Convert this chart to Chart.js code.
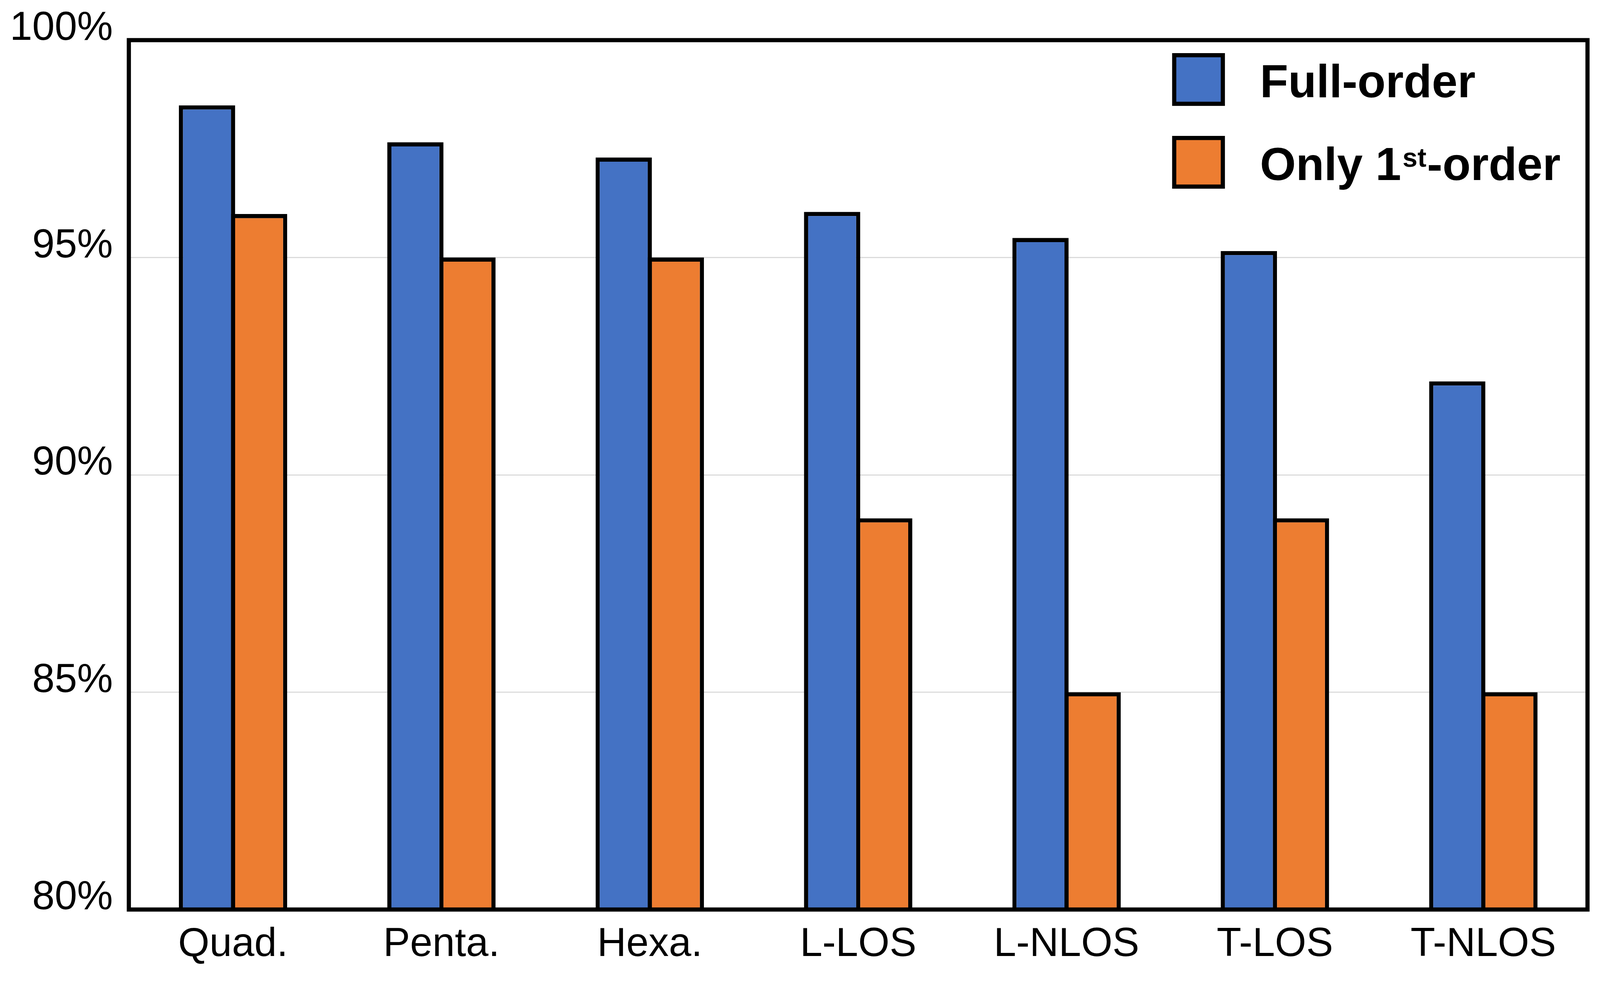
<!DOCTYPE html>
<html>
<head>
<meta charset="utf-8">
<script src="https://cdn.jsdelivr.net/npm/chart.js@4.4.1/dist/chart.umd.min.js"></script>
<style>
  html, body { margin: 0; padding: 0; background: #fff; overflow: hidden; }
  #wrap { position: relative; width: 100vw; height: 100vh; }
</style>
</head>
<body>
<div id="wrap"><canvas id="chart"></canvas></div>
<script>
// categories and values
const categories = ['Quad.', 'Penta.', 'Hexa.', 'L-LOS', 'L-NLOS', 'T-LOS', 'T-NLOS'];
const fullOrder = [98.5, 97.65, 97.3, 96.05, 95.45, 95.15, 92.15];
const firstOrder = [96, 95, 95, 89, 85, 89, 85];
const seriesNames = ['Full-order', 'Only 1st-order'];
const yTicks = [80, 85, 90, 95, 100];

const FONT = "'Liberation Sans', Arial, sans-serif";

// layout was measured on a 4607 x 2512 picture; scale it to the real viewport
const sx = window.innerWidth / 4607;
const sy = window.innerHeight / 2512;
const s = Math.min(sx, sy);

// frame round the plot area (all four sides)
const framePlugin = {
    id: 'frame',
    afterDatasetsDraw(chart) {
        const a = chart.chartArea, ctx = chart.ctx;
        ctx.save();
        ctx.strokeStyle = '#000';
        ctx.lineWidth = 12 * s;
        ctx.strokeRect(a.left, a.top, a.right - a.left, a.bottom - a.top);
        ctx.restore();
    }
};

// legend text with superscript ordinals (1st)
function drawLabel(ctx, text, x, y, size) {
    const m = text.match(/^(.*\d)(st|nd|rd|th)(.*)$/);
    ctx.font = 'bold ' + size + 'px ' + FONT;
    if (!m) { ctx.fillText(text, x, y); return; }
    ctx.fillText(m[1], x, y);
    x += ctx.measureText(m[1]).width + 4 * s;
    const sup = size * 0.58;
    ctx.font = 'bold ' + sup + 'px ' + FONT;
    ctx.fillText(m[2], x, y - size * 0.29);
    x += ctx.measureText(m[2]).width + 2 * s;
    ctx.font = 'bold ' + size + 'px ' + FONT;
    ctx.fillText(m[3], x, y);
}

const legendPlugin = {
    id: 'boxLegend',
    afterDraw(chart) {
        const ctx = chart.ctx;
        const boxX = 3375 * sx, box = 152 * s, bw = 12 * s;
        const rowY = [136 * sy, 348 * sy];
        ctx.save();
        chart.data.datasets.forEach((ds, i) => {
            const y = rowY[i];
            ctx.fillStyle = '#000';
            ctx.fillRect(boxX, y, box, box);
            ctx.fillStyle = ds.backgroundColor;
            ctx.fillRect(boxX + bw, y + bw, box - 2 * bw, box - 2 * bw);
            ctx.fillStyle = '#000';
            ctx.textBaseline = 'alphabetic';
            ctx.textAlign = 'left';
            drawLabel(ctx, ds.label, 3628 * sx, y + 127 * s, 133 * s);
        });
        ctx.restore();
    }
};

const barStyle = {
    borderColor: '#000',
    borderWidth: 12 * s,
    borderSkipped: 'start',
    categoryPercentage: 0.5,
    barPercentage: 1.08
};

new Chart(document.getElementById('chart'), {
    type: 'bar',
    data: {
        labels: categories,
        datasets: [
            Object.assign({ label: seriesNames[0], data: fullOrder, backgroundColor: '#4472C4' }, barStyle),
            Object.assign({ label: seriesNames[1], data: firstOrder, backgroundColor: '#ED7D31' }, barStyle)
        ]
    },
    options: {
        responsive: true,
        maintainAspectRatio: false,
        animation: false,
        layout: { padding: { top: 86 * sy, right: 36 * sx, left: 0, bottom: 0 } },
        plugins: {
            legend: { display: false },
            tooltip: { enabled: false }
        },
        scales: {
            x: {
                grid: { display: false, drawTicks: false },
                border: { display: false },
                ticks: {
                    color: '#000',
                    padding: 29 * sy,
                    font: { family: FONT, size: 116 * s }
                },
                afterFit(scale) { scale.height = 183 * sy; }
            },
            y: {
                min: 80,
                max: 100,
                afterBuildTicks(scale) { scale.ticks = yTicks.map(v => ({ value: v })); },
                grid: { color: '#d9d9d9', lineWidth: 3 * s, drawTicks: false },
                border: { display: false },
                ticks: {
                    color: '#000',
                    padding: 46 * sx,
                    labelOffset: -29 * sy,
                    font: { family: FONT, size: 116 * s },
                    callback: v => v + '%'
                },
                afterFit(scale) { scale.width = 371 * sx; }
            }
        }
    },
    plugins: [framePlugin, legendPlugin]
});
</script>
</body>
</html>
